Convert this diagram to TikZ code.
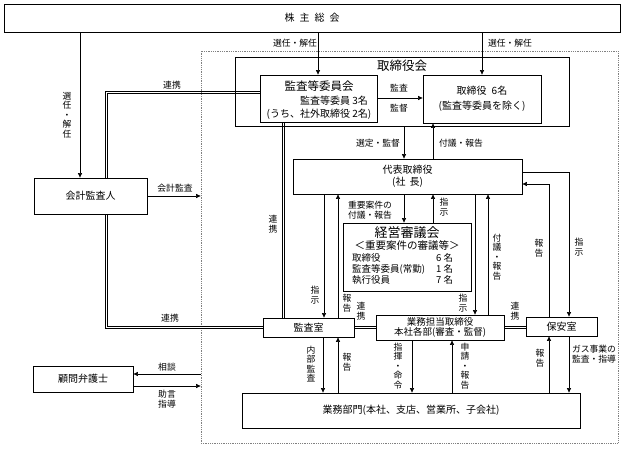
\documentclass[tikz,border=0pt]{standalone}
\usepackage{fontspec}
\newfontfamily\jp{Noto Sans CJK JP}
\usetikzlibrary{arrows.meta}
\tikzset{
  box/.style={draw, line width=0.8pt, inner sep=0pt, font=\jp\fontsize{10}{12}\selectfont, align=center},
  txt/.style={inner sep=0pt, font=\jp\fontsize{10}{12}\selectfont, align=center},
  lbl/.style={font=\jp\fontsize{8.8}{9.6}\selectfont, inner sep=0pt, align=center},
  arr/.style={-{Triangle[length=4.5pt,width=4pt]}, line width=0.6pt},
  ln/.style={line width=0.7pt},
}
\begin{document}
\begin{tikzpicture}[x=1pt,y=-1pt]
\useasboundingbox (0,0) rectangle (624,449);
% boxes
\node[box, minimum width=616, minimum height=28] (soukai) at (312,18) {株\hspace{5pt}主\hspace{5pt}総\hspace{5pt}会};
\node[draw=gray, densely dotted, line width=0.8pt, minimum width=417, minimum height=392, inner sep=0pt] (scope) at (409.5,247) {};
\node[box, minimum width=334, minimum height=69] (torikai) at (402,91.5) {};
\node[txt, font=\jp\fontsize{12.5}{14}\selectfont] (torikaiT) at (402,66) {取締役会};
\node[box, minimum width=117, minimum height=47] (kansaiin) at (318.5,98.5) {};
\node[txt, font=\jp\fontsize{11.5}{13}\selectfont] (kansaiinT) at (319,86) {監査等委員会};
\node[txt] (kansaiinA) at (334,101) {監査等委員 3名};
\node[txt] (kansaiinB) at (319,114) {(うち、社外取締役 2名)};
\node[box, minimum width=118, minimum height=48, font=\jp\fontsize{10}{15}\selectfont] (tori6) at (482,99) {取締役\hspace{5pt}6名\\(監査等委員を除く)};
\node[box, minimum width=113, minimum height=36] (kaikei) at (90.5,196) {会計監査人};
\node[box, minimum width=229, minimum height=35] (daihyo) at (407.5,176.5) {代表取締役\\(社\hspace{4pt}長)};
\node[box, minimum width=128, minimum height=68] (keiei) at (407,257) {};
\node[txt, font=\jp\fontsize{13}{15}\selectfont] (keieiT) at (407,233) {経営審議会};
\node[txt, font=\jp\fontsize{10.5}{12}\selectfont] (keieiS) at (407,246) {＜重要案件の審議等＞};
\node[txt, anchor=west, font=\jp\fontsize{9.5}{11}\selectfont] (keieiL) at (352,270)
  {\begin{tabular}{@{}p{84pt}@{}r@{}}取締役 & 6 名\\監査等委員(常勤) & 1 名\\執行役員 & 7 名\end{tabular}};
\node[box, minimum width=91, minimum height=19] (kansashitsu) at (308.5,327.5) {監査室};
\node[box, minimum width=128, minimum height=25, font=\jp\fontsize{9.5}{10.5}\selectfont] (tanto) at (440,327.5) {業務担当取締役\\本社各部(審査・監督)};
\node[box, minimum width=71, minimum height=19] (hoan) at (561.5,326.5) {保安室};
\node[box, minimum width=338, minimum height=35] (bumon) at (411,410.5) {業務部門(本社、支店、営業所、子会社)};
\node[box, minimum width=100, minimum height=26] (komon) at (83,379) {顧問弁護士};

% connectors from 株主総会
\draw[arr] (soukai.south -| 80,0) -- (kaikei.north -| 80,0);
\node[lbl] (l1) at (67,115) {選\\任\\・\\解\\任};
\draw[arr] (soukai.south -| 318,0) -- (kansaiin.north -| 318,0);
\node[lbl] (l2) at (295,43) {選任・解任};
\draw[arr] (soukai.south -| 482,0) -- (tori6.north -| 482,0);
\node[lbl] (l3) at (510,43) {選任・解任};

% 監査等委員会 -> 取締役
\draw[arr] (kansaiin.east |- 0,98) -- (tori6.west |- 0,98);
\node[lbl] (l4) at (399,88) {監査};
\node[lbl] (l5) at (399,108) {監督};

% named ends of the double (連携) lines
\coordinate (kN) at (kaikei.north -| 106,0);
\coordinate (kS) at (kaikei.south -| 106,0);
\coordinate (iW) at (kansaiin.west |- 0,92);
\coordinate (iS) at (kansaiin.south -| 283,0);
\coordinate (sW) at (kansashitsu.west |- 0,327);
\coordinate (sN) at (kansashitsu.north -| 283,0);
\coordinate (sE) at (kansashitsu.east |- 0,327);
\coordinate (tW) at (tanto.west |- 0,327);
\coordinate (tE) at (tanto.east |- 0,327);
\coordinate (hW) at (hoan.west |- 0,327);

% 会計監査人
\draw[ln] ([xshift=-1.1pt]kN) |- ([yshift=1.1pt]iW);
\draw[ln] ([xshift=1.1pt]kN) |- ([yshift=-1.1pt]iW);
\node[lbl] (l6) at (172,85) {連携};
\draw[arr] (kaikei.east |- 0,196) -- (scope.west |- 0,196);
\node[lbl] (l7) at (175,188) {会計監査};
\draw[ln] ([xshift=-1.1pt]kS) |- ([yshift=-1.1pt]sW);
\draw[ln] ([xshift=1.1pt]kS) |- ([yshift=1.1pt]sW);
\node[lbl] (l8) at (170,318) {連携};
\draw[ln] ([xshift=-1.1pt]iS) -- ([xshift=-1.1pt]sN);
\draw[ln] ([xshift=1.1pt]iS) -- ([xshift=1.1pt]sN);
\node[lbl] (l9) at (273,224) {連\\携};

% 取締役会 <-> 代表取締役
\draw[arr] (torikai.south -| 404,0) -- (daihyo.north -| 404,0);
\node[lbl] (l10) at (378,143) {選定・監督};
\draw[arr] (daihyo.north -| 433,0) -- (tori6.south -| 433,0);
\node[lbl] (l11) at (461,143) {付議・報告};

% 代表取締役 <-> 監査室
\draw[arr] (daihyo.south -| 324,0) -- (kansashitsu.north -| 324,0);
\node[lbl] (l12) at (315,295) {指\\示};
\draw[arr] (kansashitsu.north -| 338,0) -- (daihyo.south -| 338,0);
\node[lbl] (l13) at (347,303) {報\\告};

% 代表取締役 <-> 経営審議会
\draw[arr] (daihyo.south -| 404,0) -- (keiei.north -| 404,0);
\node[lbl] (l14) at (370,210) {重要案件の\\付議・報告};
\draw[arr] (keiei.north -| 433,0) -- (daihyo.south -| 433,0);
\node[lbl] (l15) at (444,207) {指\\示};

% 代表取締役 <-> 業務担当取締役
\draw[arr] (daihyo.south -| 475,0) -- (tanto.north -| 475,0);
\node[lbl] (l16) at (463,303) {指\\示};
\draw[arr] (tanto.north -| 488,0) -- (daihyo.south -| 488,0);
\node[lbl] (l17) at (497,257) {付\\議\\・\\報\\告};

% 連携 double lines
\draw[ln] ([yshift=1.1pt]sE) -- ([yshift=1.1pt]tW);
\draw[ln] ([yshift=-1.1pt]sE) -- ([yshift=-1.1pt]tW);
\node[lbl] (l18) at (361,311) {連\\携};
\draw[ln] ([yshift=1.1pt]tE) -- ([yshift=1.1pt]hW);
\draw[ln] ([yshift=-1.1pt]tE) -- ([yshift=-1.1pt]hW);
\node[lbl] (l19) at (515,311) {連\\携};

% 代表取締役 <-> 保安室
\draw[arr] (daihyo.east |- 0,172) -| (hoan.north -| 569,0);
\node[lbl] (l20) at (579,247) {指\\示};
\draw[arr] (hoan.north -| 549,0) |- (daihyo.east |- 0,184);
\node[lbl] (l21) at (539,248) {報\\告};

% to 業務部門
\draw[arr] (kansashitsu.south -| 323,0) -- (bumon.north -| 323,0);
\node[lbl] (l22) at (311,364) {内\\部\\監\\査};
\draw[arr] (bumon.north -| 338,0) -- (kansashitsu.south -| 338,0);
\node[lbl] (l23) at (347,362) {報\\告};
\draw[arr] (tanto.south -| 412,0) -- (bumon.north -| 412,0);
\node[lbl] (l24) at (398,366) {指\\揮\\・\\命\\令};
\draw[arr] (bumon.north -| 452,0) -- (tanto.south -| 452,0);
\node[lbl] (l25) at (465,366) {申\\請\\・\\報\\告};
\draw[arr] (bumon.north -| 549,0) -- (hoan.south -| 549,0);
\node[lbl] (l26) at (540,358) {報\\告};
\draw[arr] (hoan.south -| 569,0) -- (bumon.north -| 569,0);
\node[lbl] (l27) at (594,354) {ガス事業の\\監査・指導};

% 顧問弁護士
\draw[arr] (scope.west |- 0,374) -- (komon.east |- 0,374);
\node[lbl] (l28) at (167,367) {相談};
\draw[arr] (komon.east |- 0,386) -- (scope.west |- 0,386);
\node[lbl] (l29) at (167,399) {助言\\指導};
\end{tikzpicture}
\end{document}
